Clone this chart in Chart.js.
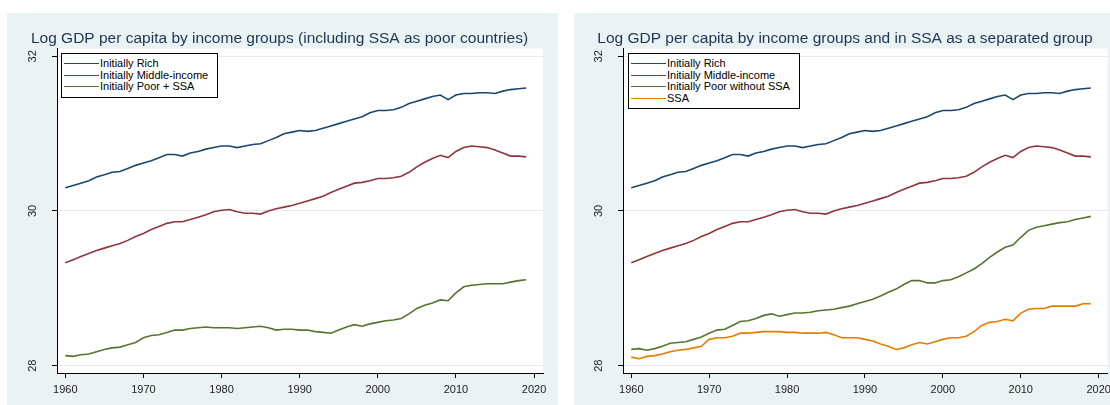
<!DOCTYPE html>
<html>
<head>
<meta charset="utf-8">
<script src="https://cdn.jsdelivr.net/npm/chart.js@4.4.1/dist/chart.umd.min.js"></script>
<style>
  body { margin: 0; width: 1110px; height: 405px; overflow: hidden; background: #fff; position: relative; font-family: "Liberation Sans", Arial, sans-serif; }
  .panel { position: absolute; top: 13px; height: 392px; width: 551px; background: #eaf2f3; }
  .panel canvas { position: absolute; left: 0; top: 0; }
  .legend { position: absolute; top: 53px; background: #fff; border: 1px solid #000; padding: 4px 9px 4px 2px; font-size: 11px; color: #000; }
  .legend .row { height: 11.5px; line-height: 11.5px; white-space: nowrap; display: flex; align-items: center; }
  .legend .swatch { width: 35px; height: 0; border-top: 1.5px solid; margin-right: 1px; }
</style>
</head>
<body>

<div class="panel" id="panelA" style="left:7px;">
  <canvas id="chartA" width="546" height="392"></canvas>
</div>
<div class="panel" id="panelB" style="left:574px;">
  <canvas id="chartB" width="542" height="392"></canvas>
</div>
<div class="legend" id="legendA" style="left:61px;"></div>
<div class="legend" id="legendB" style="left:628px;"></div>

<script>
// log GDP per capita, 1960-2019
var years = [];
for (var yr = 1960; yr <= 2019; yr++) years.push(yr);

var rich = [30.30, 30.33, 30.36, 30.39, 30.44, 30.47, 30.50, 30.51, 30.55, 30.59,
            30.62, 30.65, 30.69, 30.73, 30.73, 30.71, 30.75, 30.77, 30.80, 30.82,
            30.84, 30.84, 30.82, 30.84, 30.86, 30.87, 30.91, 30.95, 31.00, 31.02,
            31.04, 31.03, 31.04, 31.07, 31.10, 31.13, 31.16, 31.19, 31.22, 31.27,
            31.30, 31.30, 31.31, 31.34, 31.39, 31.42, 31.45, 31.48, 31.50, 31.44,
            31.50, 31.52, 31.52, 31.53, 31.53, 31.52, 31.55, 31.57, 31.58, 31.59];

var middle = [29.33, 29.37, 29.41, 29.45, 29.49, 29.52, 29.55, 29.58, 29.62, 29.67,
              29.71, 29.76, 29.80, 29.84, 29.86, 29.86, 29.89, 29.92, 29.95, 29.99,
              30.01, 30.02, 29.99, 29.97, 29.97, 29.96, 30.00, 30.03, 30.05, 30.07,
              30.10, 30.13, 30.16, 30.19, 30.24, 30.28, 30.32, 30.36, 30.37, 30.39,
              30.42, 30.42, 30.43, 30.45, 30.50, 30.57, 30.63, 30.68, 30.72, 30.69,
              30.77, 30.82, 30.84, 30.83, 30.82, 30.79, 30.75, 30.71, 30.71, 30.70];

var poorWithSSA = [28.13, 28.12, 28.14, 28.15, 28.18, 28.21, 28.23, 28.24, 28.27, 28.30,
                   28.36, 28.39, 28.40, 28.43, 28.46, 28.46, 28.48, 28.49, 28.50, 28.49,
                   28.49, 28.49, 28.48, 28.49, 28.50, 28.51, 28.49, 28.46, 28.47, 28.47,
                   28.46, 28.46, 28.44, 28.43, 28.42, 28.46, 28.50, 28.53, 28.51, 28.54,
                   28.56, 28.58, 28.59, 28.61, 28.67, 28.74, 28.78, 28.81, 28.85, 28.84,
                   28.94, 29.02, 29.04, 29.05, 29.06, 29.06, 29.06, 29.08, 29.10, 29.11];

var poorNoSSA = [28.21, 28.22, 28.20, 28.22, 28.25, 28.29, 28.30, 28.31, 28.34, 28.37,
                 28.42, 28.46, 28.47, 28.52, 28.57, 28.58, 28.61, 28.65, 28.67, 28.64,
                 28.66, 28.68, 28.68, 28.69, 28.71, 28.72, 28.73, 28.75, 28.77, 28.80,
                 28.83, 28.86, 28.90, 28.95, 28.99, 29.05, 29.10, 29.10, 29.07, 29.07,
                 29.10, 29.11, 29.15, 29.20, 29.25, 29.32, 29.40, 29.47, 29.53, 29.56,
                 29.66, 29.75, 29.79, 29.81, 29.83, 29.85, 29.86, 29.89, 29.91, 29.93];

var ssa = [28.11, 28.09, 28.12, 28.13, 28.15, 28.18, 28.20, 28.21, 28.23, 28.25,
           28.34, 28.36, 28.36, 28.38, 28.42, 28.42, 28.43, 28.44, 28.44, 28.44,
           28.43, 28.43, 28.42, 28.42, 28.42, 28.43, 28.40, 28.36, 28.36, 28.36,
           28.34, 28.32, 28.28, 28.25, 28.21, 28.23, 28.27, 28.30, 28.28, 28.31,
           28.34, 28.36, 28.36, 28.38, 28.44, 28.52, 28.56, 28.57, 28.60, 28.58,
           28.68, 28.73, 28.74, 28.74, 28.77, 28.77, 28.77, 28.77, 28.80, 28.80];

var xTicks = [1960, 1970, 1980, 1990, 2000, 2010, 2020];
var yTicks = [28, 30, 32];

var NAVY = '#1a476f', MAROON = '#90353b', GREEN = '#55752f', ORANGE = '#e37e00';
var FONT = '"Liberation Sans", Arial, sans-serif';

// white plot region
var plotBg = {
    id: 'plotBg',
    beforeDraw: function(chart) {
        var a = chart.chartArea, ctx = chart.ctx;
        ctx.save();
        ctx.fillStyle = '#ffffff';
        ctx.fillRect(a.left, a.top, a.right - a.left, a.bottom - a.top);
        ctx.restore();
    }
};

// vertical y labels, Stata style
var yLabels = {
    id: 'yLabels',
    afterDraw: function(chart) {
        var ctx = chart.ctx, scale = chart.scales.y;
        ctx.save();
        ctx.fillStyle = '#222';
        ctx.font = '11px ' + FONT;
        ctx.textAlign = 'center';
        ctx.textBaseline = 'middle';
        yTicks.forEach(function(v) {
            ctx.save();
            ctx.translate(chart.chartArea.left - 24, scale.getPixelForValue(v));
            ctx.rotate(-Math.PI / 2);
            ctx.fillText(String(v), 0, 0);
            ctx.restore();
        });
        ctx.restore();
    }
};

function makeChart(id, title, series, padLeft, axisWidth, padRight) {
    return new Chart(document.getElementById(id), {
        type: 'line',
        data: {
            datasets: series.map(function(s) {
                return {
                    label: s.label,
                    data: years.map(function(yr, i) { return { x: yr, y: s.values[i] }; }),
                    borderColor: s.color,
                    borderWidth: 1.6,
                    pointRadius: 0,
                    fill: false,
                    tension: 0
                };
            })
        },
        options: {
            responsive: false,
            animation: false,
            events: [],
            layout: { padding: { left: padLeft, right: padRight, top: 0, bottom: 0 } },
            plugins: {
                legend: { display: false },
                tooltip: { enabled: false },
                title: {
                    display: true,
                    text: title,
                    color: '#1c3556',
                    font: { family: FONT, size: 15.5, weight: 'normal' },
                    padding: { top: 16, bottom: 1 }
                }
            },
            scales: {
                x: {
                    type: 'linear',
                    min: 1958.94,
                    max: 2021.15,
                    afterBuildTicks: function(s) { s.ticks = xTicks.map(function(v) { return { value: v }; }); },
                    afterFit: function(s) { s.height = 32; },
                    grid: { drawOnChartArea: false, tickLength: 5, tickColor: '#000' },
                    border: { color: '#000', width: 1 },
                    ticks: {
                        padding: 5,
                        maxRotation: 0,
                        color: '#222',
                        font: { family: FONT, size: 11 },
                        callback: function(v) { return String(v); }
                    }
                },
                y: {
                    min: 27.905,
                    max: 32.1,
                    afterBuildTicks: function(s) { s.ticks = yTicks.map(function(v) { return { value: v }; }); },
                    afterFit: function(s) { s.width = axisWidth; },
                    grid: { color: '#e3ecee', lineWidth: 1, tickLength: 5, tickColor: '#000' },
                    border: { color: '#000', width: 1 },
                    ticks: { display: false }
                }
            }
        },
        plugins: [plotBg, yLabels]
    });
}

function buildLegend(id, series) {
    var box = document.getElementById(id);
    series.forEach(function(s) {
        var row = document.createElement('div');
        row.className = 'row';
        var sw = document.createElement('span');
        sw.className = 'swatch';
        sw.style.borderColor = s.color;
        row.appendChild(sw);
        row.appendChild(document.createTextNode(s.label));
        box.appendChild(row);
    });
}

var seriesA = [
    { label: 'Initially Rich', values: rich, color: NAVY },
    { label: 'Initially Middle-income', values: middle, color: MAROON },
    { label: 'Initially Poor + SSA', values: poorWithSSA, color: GREEN }
];

var seriesB = [
    { label: 'Initially Rich', values: rich, color: NAVY },
    { label: 'Initially Middle-income', values: middle, color: MAROON },
    { label: 'Initially Poor without SSA', values: poorNoSSA, color: GREEN },
    { label: 'SSA', values: ssa, color: ORANGE }
];

makeChart('chartA', 'Log GDP per capita by income groups (including SSA as poor countries)', seriesA, 9, 41, 10);
makeChart('chartB', 'Log GDP per capita by income groups and in SSA as a separated group', seriesB, 6, 43, 6);

buildLegend('legendA', seriesA);
buildLegend('legendB', seriesB);
</script>
</body>
</html>
